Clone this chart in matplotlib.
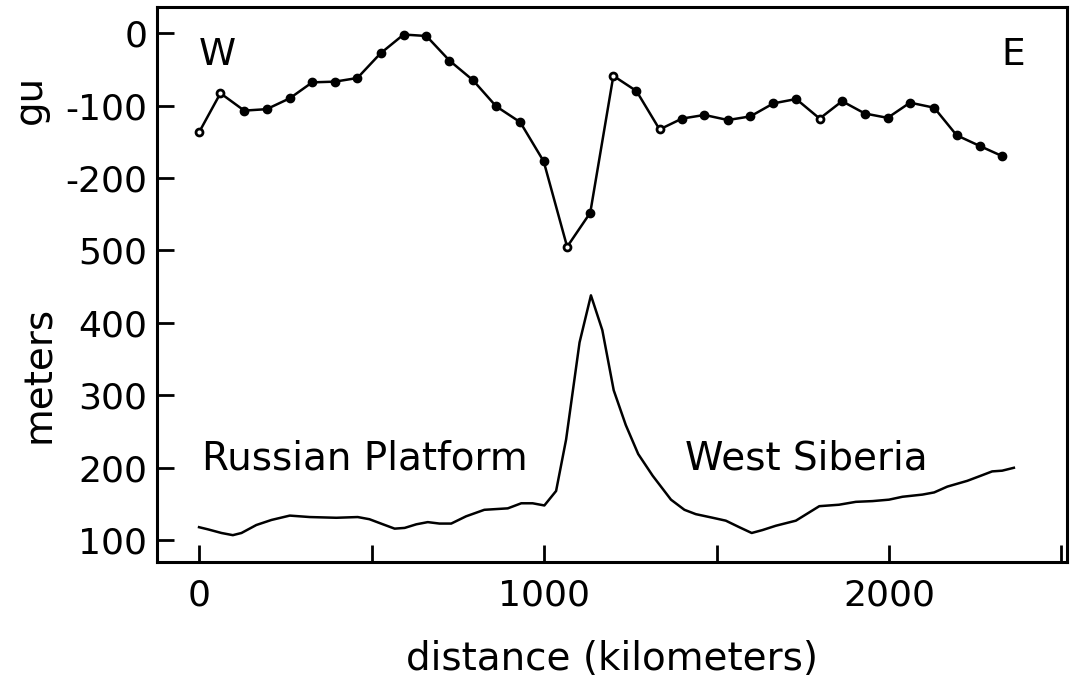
import matplotlib
matplotlib.use("Agg")
import matplotlib.pyplot as plt
import numpy as np

# Gravity profile (gu), plotted in the upper part of the panel
grav_km = [0, 62, 131, 196, 263, 328, 394, 459, 526, 593, 659, 726, 794, 861, 931, 999,
           1067, 1134, 1201, 1268, 1335, 1400, 1465, 1533, 1598, 1665, 1731, 1799, 1864,
           1930, 1996, 2061, 2131, 2196, 2264, 2329]
grav_gu = [-137, -83, -107, -105, -90, -68, -67, -62, -28, -2, -4, -38, -65, -101, -123, -177,
           -295, -248, -59, -80, -133, -118, -113, -120, -115, -97, -91, -118, -94,
           -111, -117, -96, -103, -141, -156, -170]
grav_open = [0, 1, 16, 18, 20, 27]

# Elevation profile (meters)
elev_km = [0, 26, 65, 98, 123, 166, 210, 263, 321, 398, 460, 494, 533, 567, 596, 630, 663,
           697, 731, 774, 827, 895, 934, 967, 1001, 1035, 1064, 1103, 1136, 1169, 1202, 1237,
           1273, 1315, 1368, 1407, 1440, 1489, 1527, 1566, 1602, 1633, 1672, 1730, 1764,
           1798, 1855, 1904, 1952, 2000, 2039, 2097, 2131, 2169, 2227, 2266, 2299, 2328, 2362]
elev_m = [118, 115, 110, 107, 110, 121, 128, 134, 132, 131, 132, 129, 122, 116, 117, 122, 125,
          123, 123, 133, 142, 144, 151, 151, 148, 168, 239, 373, 438, 390, 307, 259,
          219, 189, 156, 142, 136, 131, 127, 118, 110, 114, 120, 127, 137,
          147, 149, 153, 154, 156, 160, 163, 166, 174, 182, 189, 195, 196, 200]

# Combined axis: gu value g is drawn at 800 + g
gu_offset = 800
ytick_vals = [100, 200, 300, 400, 500, 600, 700, 800]
ytick_labels = ["100", "200", "300", "400", "500", "-200", "-100", "0"]
xtick_vals = [0, 500, 1000, 1500, 2000, 2500]
xtick_labels = ["0", "", "1000", "", "2000", ""]

plt.rcParams['font.family'] = ['DejaVu Sans']
fig = plt.figure(figsize=(10.78, 6.87), dpi=100)
ax = fig.add_axes([0.1456, 0.182, 0.8442, 0.8078])

gy = [gu_offset + g for g in grav_gu]
ax.plot(grav_km, gy, color='black', lw=1.8, marker='o', ms=6,
        mfc='black', mec='black', zorder=3)
ax.plot([grav_km[i] for i in grav_open], [gy[i] for i in grav_open], 'o',
        ms=3, mfc='white', mec='none', zorder=4)
ax.plot(elev_km, elev_m, color='black', lw=1.8)

ax.set_xlim(-122, 2516)
ax.set_ylim(70, 836)
ax.set_xticks(xtick_vals)
ax.set_xticklabels(xtick_labels)
ax.set_yticks(ytick_vals)
ax.set_yticklabels(ytick_labels)
ax.tick_params(direction='in', length=12, width=2, labelsize=26)
ax.tick_params(axis='x', pad=12)
ax.tick_params(axis='y', pad=7)
for s in ax.spines.values():
    s.set_linewidth(2.2)

ax.set_xlabel("distance (kilometers)", fontsize=28, labelpad=20)
fig.text(0.028, 0.855, "gu", rotation=90, fontsize=28, ha='center', va='center')
fig.text(0.036, 0.455, "meters", rotation=90, fontsize=28, ha='center', va='center')

ax.text(0, 770, "W", fontsize=27, ha='left', va='center')
ax.text(2325, 770, "E", fontsize=27, ha='left', va='center')
ax.text(10, 213, "Russian Platform", fontsize=28, ha='left', va='center')
ax.text(1410, 213, "West Siberia", fontsize=28, ha='left', va='center')

fig.savefig("out.png", dpi=100)
